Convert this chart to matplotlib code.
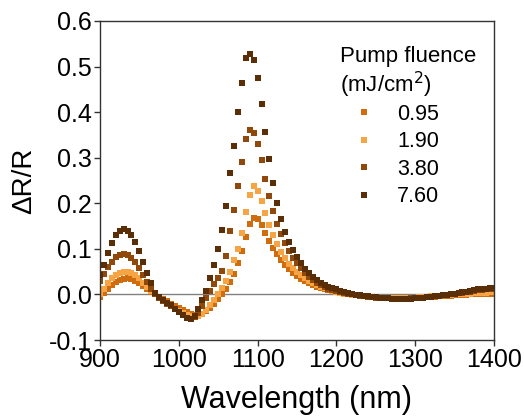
import matplotlib
matplotlib.use('Agg')
import matplotlib.pyplot as plt
import numpy as np

plt.rcParams['font.family'] = ['Liberation Sans', 'DejaVu Sans']
plt.rcParams['axes.unicode_minus'] = False

# wavelength grid (nm), 5 nm steps
wavelength = list(range(900, 1405, 5))

fluences = ['0.95', '1.90', '3.80', '7.60']
colors = ['#cf6c0e', '#f7a445', '#91490b', '#5a2e06']

dr_095 = [
    -0.005, 0.004, 0.013, 0.021, 0.027, 0.031, 0.034, 0.035, 0.033, 0.029,
    0.024, 0.018, 0.012, 0.006, 0.000, -0.005, -0.010, -0.015, -0.020, -0.025,
    -0.030, -0.035, -0.039, -0.043, -0.045, -0.046, -0.043, -0.037, -0.029, -0.020,
    -0.010, 0.000, 0.012, 0.027, 0.045, 0.068, 0.095, 0.125, 0.155, 0.168,
    0.165, 0.152, 0.135, 0.118, 0.102, 0.088, 0.075, 0.064, 0.055, 0.047,
    0.040, 0.034, 0.029, 0.024, 0.020, 0.017, 0.014, 0.011, 0.009, 0.007,
    0.005, 0.003, 0.001, 0.000, -0.001, -0.002, -0.003, -0.004, -0.005, -0.006,
    -0.007, -0.007, -0.008, -0.008, -0.008, -0.008, -0.008, -0.008, -0.008, -0.008,
    -0.007, -0.007, -0.006, -0.006, -0.005, -0.005, -0.004, -0.004, -0.003, -0.003,
    -0.002, -0.002, -0.001, -0.001, 0.000, 0.000, 0.001, 0.001, 0.001, 0.001,
    0.001,
]

dr_190 = [
    0.000, 0.012, 0.024, 0.035, 0.043, 0.048, 0.050, 0.050, 0.047, 0.042,
    0.035, 0.026, 0.017, 0.008, 0.000, -0.008, -0.014, -0.020, -0.026, -0.031,
    -0.036, -0.041, -0.045, -0.048, -0.050, -0.048, -0.042, -0.034, -0.024, -0.012,
    0.000, 0.015, 0.030, 0.050, 0.075, 0.100, 0.135, 0.180, 0.218, 0.237,
    0.228, 0.205, 0.178, 0.152, 0.130, 0.110, 0.093, 0.079, 0.067, 0.057,
    0.049, 0.042, 0.036, 0.030, 0.025, 0.021, 0.017, 0.014, 0.011, 0.008,
    0.006, 0.004, 0.002, 0.000, -0.001, -0.002, -0.003, -0.004, -0.005, -0.006,
    -0.006, -0.007, -0.007, -0.008, -0.008, -0.008, -0.008, -0.008, -0.008, -0.007,
    -0.007, -0.006, -0.006, -0.005, -0.004, -0.004, -0.003, -0.002, -0.001, -0.001,
    0.000, 0.001, 0.001, 0.002, 0.002, 0.003, 0.003, 0.004, 0.004, 0.005,
    0.005,
]

dr_380 = [
    0.030, 0.045, 0.060, 0.072, 0.082, 0.087, 0.089, 0.087, 0.081, 0.071,
    0.058, 0.043, 0.028, 0.013, 0.000, -0.007, -0.014, -0.020, -0.026, -0.032,
    -0.039, -0.046, -0.051, -0.053, -0.050, -0.040, -0.025, -0.008, 0.008, 0.022,
    0.037, 0.052, 0.085, 0.140, 0.185, 0.237, 0.290, 0.340, 0.360, 0.355,
    0.331, 0.295, 0.254, 0.215, 0.183, 0.155, 0.132, 0.112, 0.095, 0.080,
    0.068, 0.057, 0.047, 0.039, 0.032, 0.026, 0.021, 0.017, 0.013, 0.010,
    0.007, 0.005, 0.003, 0.001, 0.000, -0.002, -0.003, -0.004, -0.005, -0.006,
    -0.007, -0.007, -0.008, -0.008, -0.009, -0.009, -0.009, -0.009, -0.009, -0.008,
    -0.008, -0.007, -0.007, -0.006, -0.005, -0.004, -0.003, -0.002, -0.001, 0.000,
    0.001, 0.003, 0.004, 0.005, 0.006, 0.008, 0.009, 0.010, 0.011, 0.012,
    0.012,
]

dr_760 = [
    0.042, 0.065, 0.090, 0.112, 0.130, 0.140, 0.143, 0.140, 0.130, 0.115,
    0.095, 0.072, 0.048, 0.025, 0.003, -0.006, -0.012, -0.018, -0.024, -0.031,
    -0.038, -0.046, -0.052, -0.054, -0.048, -0.032, -0.012, 0.008, 0.035, 0.065,
    0.100, 0.141, 0.195, 0.266, 0.325, 0.400, 0.465, 0.518, 0.528, 0.515,
    0.475, 0.418, 0.356, 0.297, 0.245, 0.200, 0.165, 0.138, 0.115, 0.097,
    0.082, 0.068, 0.056, 0.046, 0.038, 0.031, 0.026, 0.021, 0.017, 0.014,
    0.011, 0.008, 0.005, 0.003, 0.001, -0.001, -0.002, -0.003, -0.004, -0.005,
    -0.006, -0.007, -0.008, -0.008, -0.009, -0.009, -0.009, -0.009, -0.009, -0.009,
    -0.008, -0.008, -0.007, -0.006, -0.005, -0.004, -0.003, -0.002, -0.001, 0.000,
    0.002, 0.003, 0.005, 0.006, 0.008, 0.009, 0.011, 0.012, 0.013, 0.014,
    0.015,
]

series = [dr_095, dr_190, dr_380, dr_760]

fig = plt.figure(figsize=(5.24, 4.18), dpi=100)
ax = fig.add_axes([0.1908, 0.1866, 0.7519, 0.7632])

ax.axhline(0, color='#808080', linewidth=1.0, zorder=1)

for lab, col, vals in zip(fluences, colors, series):
    ax.plot(wavelength, vals, linestyle='none', marker='s', markersize=4.7,
            markeredgewidth=0, color=col, label=lab, zorder=2)

ax.set_xlim(900, 1400)
ax.set_ylim(-0.1, 0.6)
ax.set_xticks(np.arange(900, 1401, 100))
ax.set_yticks(np.arange(-0.1, 0.61, 0.1))
ax.set_yticklabels([f'{v:.1f}' for v in np.arange(-0.1, 0.61, 0.1)])
ax.tick_params(direction='out', length=4, width=1, labelsize=18, pad=2,
               colors='#333333', labelcolor='black')
for sp in ax.spines.values():
    sp.set_color('#333333')
    sp.set_linewidth(1.0)

ax.set_xlabel('Wavelength (nm)', fontsize=22, labelpad=9)
ax.set_ylabel('ΔR/R', fontsize=20, labelpad=8)

# legend title written as text, entries below it
ax.text(0.609, 0.871, 'Pump fluence', transform=ax.transAxes, fontsize=16,
        ha='left', va='baseline')
ax.text(0.609, 0.777, '(mJ/cm$^2$)', transform=ax.transAxes, fontsize=16,
        ha='left', va='baseline')
leg = ax.legend(frameon=False, fontsize=15.5, loc='upper left',
                bbox_to_anchor=(0.642, 0.740), handlelength=1.0,
                handletextpad=1.05, labelspacing=0.3, borderpad=0.0,
                borderaxespad=0.0, markerscale=0.85)

fig.savefig('out.png', dpi=100, facecolor='white')
